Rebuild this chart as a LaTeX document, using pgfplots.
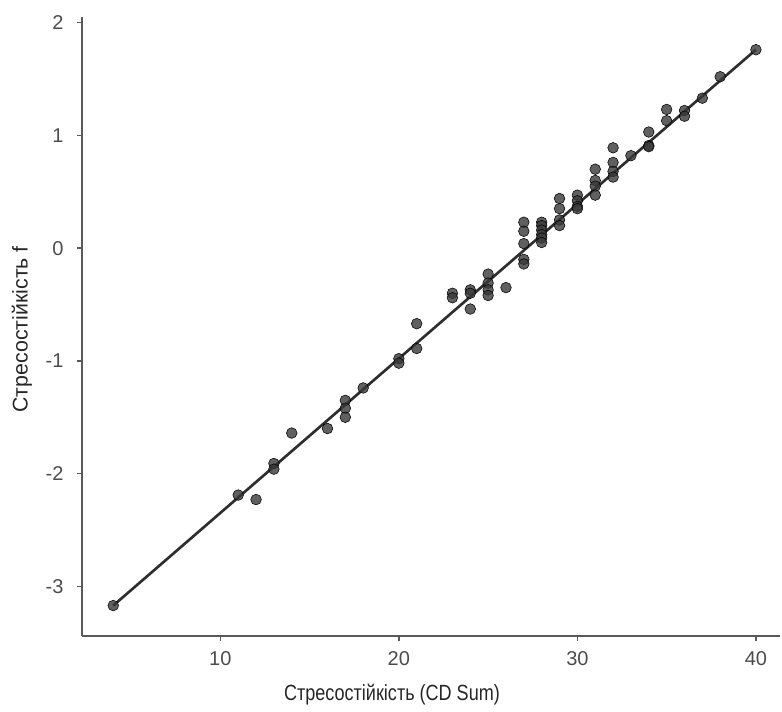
\documentclass[border=0pt]{standalone}
\usepackage{pgfplots}
\pgfplotsset{compat=1.18}
\usepackage{fontspec}
\setmainfont{Liberation Sans}
\newfontfamily\xtitlefont[FakeStretch=0.82]{Liberation Sans}
\begin{document}
\begin{tikzpicture}
\path[use as bounding box] (-61.5pt,-56.25pt) rectangle (525pt,477pt);
\begin{axis}[
  scale only axis,
  width=523.5pt, height=464.25pt,
  xmin=2.25, xmax=41.35, ymin=-3.44, ymax=2.05,
  axis x line*=bottom, axis y line*=left,
  x axis line style={-}, y axis line style={-},
  axis line style={black!65, line width=1pt},
  xtick={10,20,30,40}, xticklabels={10,20,30,40},
  ytick={-3,-2,-1,0,1,2}, yticklabels={-3,-2,-1,0,1,2},
  tick align=outside, major tick length=3.75pt,
  tick style={black!65, line width=1pt},
  ticklabel style={font=\fontsize{15}{18}\selectfont, text=black!70, inner sep=0pt},
  xticklabel style={yshift=-8pt},
  yticklabel style={xshift=-10pt},
  xlabel={Стресостійкість (CD Sum)},
  ylabel={Стресостійкість f},
  xlabel style={font=\xtitlefont\fontsize{16.5}{19}\selectfont, text=black!85, at={(axis description cs:0.4441,-0.1034)}, anchor=base},
  ylabel style={font=\fontsize{16}{19}\selectfont, text=black!85, at={(axis description cs:-0.086,0.4954)}, anchor=center},
  clip=false,
]
\addplot[draw=black!82, line width=2pt] coordinates {(4,-3.17) (40,1.76)};
\addplot[only marks, mark=*, mark size=4pt, mark options={draw=none, fill=black!78, fill opacity=0.8}] coordinates {
(4,-3.17)
(11,-2.19) (12,-2.23)
(13,-1.91) (13,-1.96)
(14,-1.64) (16,-1.60)
(17,-1.35) (17,-1.42) (17,-1.50)
(18,-1.24)
(20,-0.98) (20,-1.02)
(21,-0.67) (21,-0.89)
(23,-0.40) (23,-0.44)
(24,-0.37) (24,-0.40) (24,-0.54)
(25,-0.23) (25,-0.31) (25,-0.37) (25,-0.42)
(26,-0.35)
(27,0.23) (27,0.15) (27,0.04) (27,-0.10) (27,-0.14)
(28,0.23) (28,0.20) (28,0.16) (28,0.12) (28,0.09) (28,0.05)
(29,0.44) (29,0.35) (29,0.25) (29,0.20)
(30,0.47) (30,0.42) (30,0.37) (30,0.35)
(31,0.70) (31,0.60) (31,0.55) (31,0.47)
(32,0.89) (32,0.76) (32,0.68) (32,0.63)
(33,0.82)
(34,1.03) (34,0.91) (34,0.90)
(35,1.23) (35,1.13)
(36,1.22) (36,1.17)
(37,1.33)
(38,1.52)
(40,1.76)
};
\end{axis}
\end{tikzpicture}
\end{document}
